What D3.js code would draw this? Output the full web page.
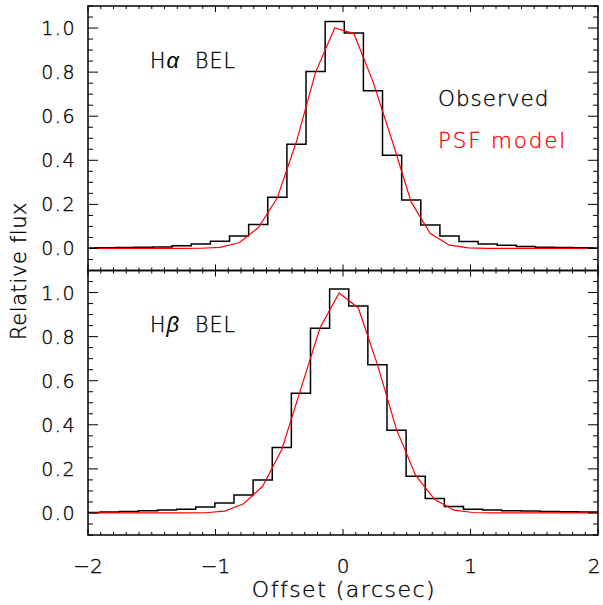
<!DOCTYPE html>
<html>
<head>
<meta charset="utf-8">
<script src="https://cdn.jsdelivr.net/npm/d3@7"></script>
<style>
  body { margin: 0; background: #fff; }
  text { font-family: "DejaVu Sans ExtraLight", "DejaVu Sans", sans-serif; font-weight: 200; fill: #000; stroke: #000; stroke-width: 0.35; }
  text.red { fill: #ff0000; stroke: #ff0000; }
  tspan.greek { font-family: "Liberation Sans", "DejaVu Sans", sans-serif; font-style: italic; font-weight: 400; stroke: none; }
</style>
</head>
<body>
<svg id="chart" width="603" height="605"></svg>
<script>
// ---- data ----
const binWidth = 0.15;
const haCenters = [-2.015,-1.865,-1.715,-1.565,-1.415,-1.265,-1.115,-0.965,-0.815,-0.665,-0.515,-0.365,-0.215,-0.065,0.085,0.235,0.385,0.535,0.685,0.835,0.985,1.135,1.285,1.435,1.585,1.735,1.885,2.035];
const haObserved = [0.002,0.003,0.004,0.005,0.007,0.012,0.020,0.033,0.056,0.109,0.232,0.473,0.803,1.030,0.977,0.715,0.423,0.220,0.106,0.056,0.032,0.020,0.014,0.009,0.006,0.004,0.003,0.002];
const haModel = [0,0,0,0,0,0,0.001,0.005,0.026,0.094,0.230,0.485,0.800,1.000,0.975,0.757,0.490,0.210,0.068,0.015,0.003,0,0,0,0,0,0,0];

const hbCenters = [-1.98,-1.83,-1.68,-1.53,-1.38,-1.23,-1.08,-0.93,-0.78,-0.63,-0.48,-0.33,-0.18,-0.03,0.12,0.27,0.42,0.57,0.72,0.87,1.02,1.17,1.32,1.47,1.62,1.77,1.92,2.07];
const hbObserved = [0.002,0.004,0.007,0.010,0.013,0.017,0.027,0.045,0.082,0.150,0.297,0.543,0.838,1.016,0.939,0.672,0.375,0.167,0.066,0.029,0.017,0.013,0.010,0.009,0.007,0.005,0.004,0.002];
const hbModel = [0,0,0,0,0,0,0.001,0.008,0.042,0.121,0.288,0.564,0.840,0.998,0.930,0.673,0.378,0.170,0.061,0.013,0.002,0,0,0,0,0,0,0];

const xTickValues = [-2,-1,0,1,2];
const xTickLabels = ["\u22122","\u22121","0","1","2"];
const yTickValues = [0.0,0.2,0.4,0.6,0.8,1.0];
const yTickLabels = ["0.0","0.2","0.4","0.6","0.8","1.0"];
const panelLabels = [["H","\u03B1","  BEL"],["H","\u03B2","  BEL"]];
const legendLabels = ["Observed","PSF model"];
const seriesColors = ["#000000","#ff0000"];

// ---- layout ----
const svg = d3.select("#chart");
const left = 88, right = 598;
const panels = [
  {top: 6, bottom: 270.5, centers: haCenters, obs: haObserved, model: haModel, label: panelLabels[0]},
  {top: 270.5, bottom: 535, centers: hbCenters, obs: hbObserved, model: hbModel, label: panelLabels[1]}
];
const x = d3.scaleLinear().domain([-2,2]).range([left,right]);

panels.forEach((p, i) => {
  const y = d3.scaleLinear().domain([-0.1,1.1]).range([p.bottom,p.top]);
  const g = svg.append("g");
  const clipId = "clip" + i;
  svg.append("clipPath").attr("id", clipId)
    .append("rect").attr("x", left).attr("y", p.top).attr("width", right-left).attr("height", p.bottom-p.top);

  // histogram of observed
  const pts = p.centers.map((c,k) => [c - binWidth/2, p.obs[k]]);
  pts.push([p.centers[p.centers.length-1] + binWidth/2, p.obs[p.obs.length-1]]);
  const stepLine = d3.line().x(d => x(d[0])).y(d => y(d[1])).curve(d3.curveStepAfter);
  g.append("path").attr("d", stepLine(pts))
    .attr("fill","none").attr("stroke",seriesColors[0]).attr("stroke-width",1.5)
    .attr("clip-path","url(#"+clipId+")");

  // model polyline
  const mline = d3.line().x((d,k) => x(p.centers[k])).y(d => y(d));
  g.append("path").attr("d", mline(p.model))
    .attr("fill","none").attr("stroke",seriesColors[1]).attr("stroke-width",1.2)
    .attr("clip-path","url(#"+clipId+")");

  // axes: ticks inside on all four sides
  const xMinor = d3.range(-20, 21).map(v => v/10);
  const yMinor = d3.range(-2, 23).map(v => v/20).filter(v => v >= -0.1 && v <= 1.1);
  const tick = svg.append("g").attr("stroke","#000").attr("stroke-width",1);
  xMinor.forEach(v => {
    const major = Math.abs(v - Math.round(v)) < 1e-6;
    const len = major ? 6 : 3;
    tick.append("line").attr("x1",x(v)).attr("x2",x(v)).attr("y1",p.bottom).attr("y2",p.bottom-len);
    tick.append("line").attr("x1",x(v)).attr("x2",x(v)).attr("y1",p.top).attr("y2",p.top+len);
  });
  yMinor.forEach(v => {
    const major = Math.abs(v*5 - Math.round(v*5)) < 1e-6;
    const len = major ? 10 : 5;
    tick.append("line").attr("x1",left).attr("x2",left+len).attr("y1",y(v)).attr("y2",y(v));
    tick.append("line").attr("x1",right).attr("x2",right-len).attr("y1",y(v)).attr("y2",y(v));
  });
  svg.append("rect").attr("x",left).attr("y",p.top).attr("width",right-left).attr("height",p.bottom-p.top)
    .attr("fill","none").attr("stroke","#000").attr("stroke-width",1.5);

  // y tick labels
  yTickValues.forEach((v,k) => {
    svg.append("text").attr("x", 76).attr("y", y(v)+7).attr("text-anchor","end")
      .attr("font-size",19).attr("letter-spacing",1.5).text(yTickLabels[k]);
  });

  // panel label
  const t = svg.append("text").attr("x",150).attr("y", p.top + 61.5).attr("font-size",20.5)
    .attr("letter-spacing",1).style("white-space","pre");
  t.append("tspan").text(p.label[0]);
  t.append("tspan").attr("class","greek").attr("font-size",22).text(p.label[1]);
  t.append("tspan").text(p.label[2]);
});

// x tick labels
xTickValues.forEach((v,k) => {
  svg.append("text").attr("x", Math.min(x(v), 594)).attr("y", 572.5).attr("text-anchor","middle")
    .attr("font-size",20).text(xTickLabels[k]);
});

// axis titles
svg.append("text").attr("x", x(0)+1).attr("y", 597).attr("text-anchor","middle")
  .attr("font-size",22).attr("letter-spacing",1.5).text("Offset (arcsec)");
svg.append("text").attr("transform","translate(26,271) rotate(-90)").attr("text-anchor","middle")
  .attr("font-size",21).attr("letter-spacing",0.6).text("Relative flux");

// legend
svg.append("text").attr("x",438).attr("y",106).attr("font-size",21.5).attr("letter-spacing",1.0)
  .text(legendLabels[0]);
svg.append("text").attr("class","red").attr("x",438).attr("y",148).attr("font-size",21.5).attr("letter-spacing",1.8)
  .text(legendLabels[1]);
</script>
</body>
</html>
